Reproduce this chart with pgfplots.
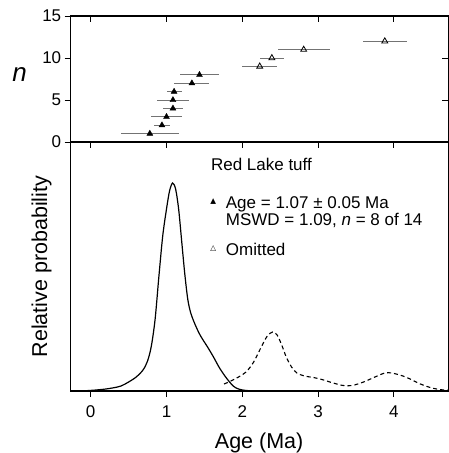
\documentclass[border=0pt]{standalone}
\usepackage{fontspec}
\setmainfont{Liberation Sans}
\newfontfamily\dejavu{DejaVu Sans}
\usepackage{pgfplots}
\pgfplotsset{compat=1.18}
\usepackage{pgfplotstable}

\pgfplotstableread{
x y e
0.78 1 0.38
0.94 2 0.11
1.00 3 0.21
1.085 4 0.13
1.085 5 0.21
1.10 6 0.10
1.335 7 0.23
1.435 8 0.255
}\acc
\pgfplotstableread{
x y e
2.23 9 0.23
2.39 10 0.16
2.81 11 0.345
3.88 12 0.29
}\om
\pgfplotstableread{
x y
-0.264 0
-0.1 0.2
0 0.6
0.1 1.2
0.2 2
0.3 3.2
0.4 5
0.5 9
0.6 14
0.69 21
0.75 30
0.8 45
0.85 72
0.9 115
0.95 155
1.0 182
1.04 200
1.08 208
1.12 202
1.16 182
1.2 150
1.24 118
1.28 92
1.32 78
1.38 66
1.45 55
1.55 43
1.62 34
1.7 23
1.79 13
1.88 5
1.95 2
2.05 0.5
2.2 0
}\solid
\pgfplotstableread{
x y
1.76 7
1.85 10
1.95 14
2.05 19
2.15 29
2.25 44
2.33 55
2.40 59
2.46 56
2.52 46
2.58 34
2.65 24
2.72 18
2.82 15
2.94 13.5
3.05 11.5
3.2 8
3.33 5.5
3.45 5.5
3.6 9
3.75 14
3.88 18
3.97 18
4.1 15.5
4.2 12.5
4.35 7
4.48 3.5
4.6 1.5
4.718 0.8
}\omitted

\newcommand\lf{\fontsize{17}{20}\selectfont}

\begin{document}
\begin{tikzpicture}
\pgfplotsset{
  common/.style={
    scale only axis, width=377.6pt, xmin=-0.264, xmax=4.718,
    axis line style={line width=1.1pt},
    major tick length=6pt,
    every tick/.style={line width=0.9pt, black},
    tick label style={font=\fontsize{17}{20}\selectfont},
    /pgf/number format/assume math mode=true,
    xtick={0,1,2,3,4},
  },
}
% top panel
\begin{axis}[common, at={(70.7pt,-142pt)}, anchor=south west, height=126pt,
  ymin=0, ymax=15, ytick={0,5,10,15},
  xtick pos=top, xtick align=inside, xticklabels={},
  ytick pos=left, ytick align=outside,
  ylabel={\textit{n}},
  every axis y label/.style={at={(axis description cs:-0.1356,0.532)}, anchor=center, font=\fontsize{26}{30}\selectfont},
]
\addplot[only marks, mark=triangle*, mark size=3.4pt, black,
  error bars/.cd, x dir=both, x explicit, error mark=none,
  error bar style={black!55, line width=0.8pt}]
  table[x=x, y=y, x error=e] {\acc};
\addplot[only marks, mark=triangle, mark size=3.4pt, black, mark options={fill=white, line width=0.8pt},
  error bars/.cd, x dir=both, x explicit, error mark=none,
  error bar style={black!55, line width=0.8pt}]
  table[x=x, y=y, x error=e] {\om};
\end{axis}
\begin{axis}[common, at={(70.7pt,-142pt)}, anchor=south west, height=126pt,
  ymin=0, ymax=15, ytick={5,10}, yticklabels={},
  ytick pos=right, ytick align=inside, xtick=\empty]
\end{axis}
% bottom panel
\begin{axis}[common, at={(70.7pt,-142pt)}, anchor=north west, height=249pt,
  ymin=0, ymax=249, ytick=\empty,
  xtick pos=bottom, xtick align=outside,
  xticklabel style={yshift=-5pt},
  xlabel={Age (Ma)}, ylabel={Relative probability},
  every axis x label/.style={at={(axis description cs:0.499,-0.209)}, anchor=center, font=\fontsize{21.5}{25}\selectfont},
  every axis y label/.style={at={(axis description cs:-0.077,0.5)}, rotate=90, anchor=center, font=\fontsize{21.5}{25}\selectfont},
]
\addplot[smooth, black, line width=1.2pt] table[x=x,y=y] {\solid};
\addplot[smooth, black, line width=1.1pt, dash pattern=on 4pt off 3pt] table[x=x,y=y] {\omitted};
\node[anchor=base west, inner sep=0pt] at (axis cs:1.585,221) {\lf Red Lake tuff};
\node[anchor=base west, inner sep=0pt] at (axis cs:1.781,182.7) {\lf Age = 1.07 ± 0.05 Ma};
\node[anchor=base west, inner sep=0pt] at (axis cs:1.781,165.3) {\lf MSWD = 1.09, \textit{n} = 8 of 14};
\node[anchor=base west, inner sep=0pt] at (axis cs:1.781,136) {\lf Omitted};
\node[anchor=center, inner sep=0pt] at (axis cs:1.617,189.5) {\dejavu\fontsize{7.5}{7.5}\selectfont ▲};
\node[anchor=center, inner sep=0pt] at (axis cs:1.617,142) {\dejavu\fontsize{7.5}{7.5}\selectfont △};
\end{axis}
\begin{axis}[common, at={(70.7pt,-142pt)}, anchor=north west, height=249pt,
  ymin=0, ymax=249, ytick=\empty,
  xtick pos=top, xtick align=inside, xticklabels={}]
\end{axis}
\pgfresetboundingbox
\useasboundingbox (0,0) rectangle (449pt,-453pt);
\end{tikzpicture}
\end{document}
